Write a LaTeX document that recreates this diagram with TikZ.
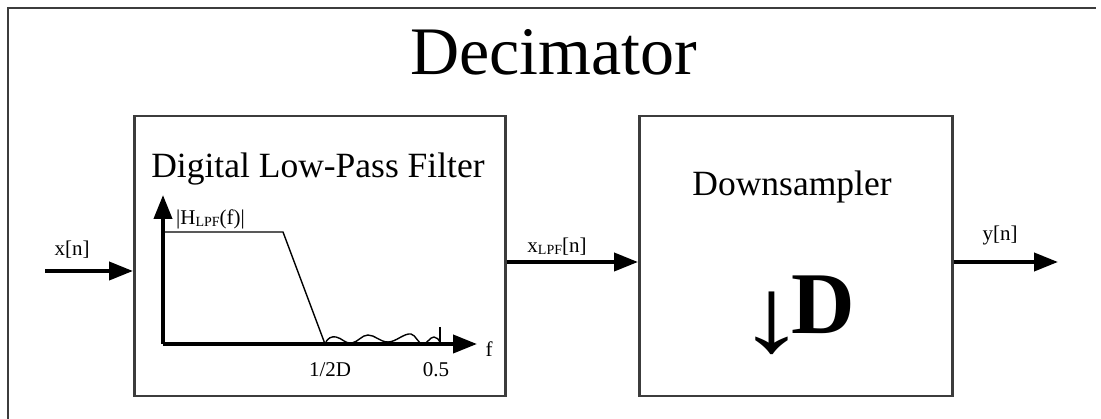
\documentclass[tikz,border=0pt]{standalone}
\usepackage{fontspec}
\setmainfont{Liberation Serif}
\usetikzlibrary{arrows.meta}
\definecolor{frame}{HTML}{3C3C3C}
\newcommand{\sub}[1]{{\fontsize{14}{14}\selectfont\raisebox{-1.5pt}{#1}}}
\tikzset{
  px/.style={x=1pt,y=-1pt},
  blockbox/.style={draw=frame,line width=2.5pt,inner sep=0pt},
  sigarrow/.style={line width=4pt,-{Triangle[length=24pt,width=18pt]}},
  axisline/.style={line width=4pt,-{Triangle[length=24pt,width=18pt]}},
  lbl/.style={font=\fontsize{21}{21}\selectfont,anchor=base,inner sep=0pt},
  heading/.style={anchor=base,inner sep=0pt,font=\fontsize{35.5}{35.5}\selectfont},
  curve/.style={line width=1.4pt,line join=round}
}
\begin{document}
\begin{tikzpicture}[px]
\useasboundingbox (0,0) rectangle (1101,419);
% outer frame (only top and left edges fall inside the page)
\draw[frame,line width=2.5pt] (8,425) -- (8,8) -- (1096,8);

% title
\node[anchor=base,inner sep=0pt,font=\fontsize{68}{68}\selectfont] (title) at (554,75) {Decimator};

% the two blocks
\node[blockbox,minimum width=371pt,minimum height=280pt,anchor=north west] (lpf) at (133,115) {};
\node[blockbox,minimum width=313pt,minimum height=280pt,anchor=north west] (ds) at (638,115) {};

\node[heading] (lpftitle) at (318,178) {Digital Low-Pass Filter};
\node[heading] (dstitle) at (792,196) {Downsampler};

% downsampling symbol
\node[anchor=base,inner sep=0pt,font=\fontsize{106}{106}\selectfont] (darr) at (772,352) {\scalebox{1.3}[1]{↓}};
\node[anchor=base west,inner sep=0pt,font=\fontsize{88}{88}\selectfont\bfseries] (dd) at (791,334) {D};

% frequency response sketch
\coordinate (o) at (163,344);
\coordinate (ytip) at (163,195);
\coordinate (xtip) at (477,344);
\draw[axisline] (o) -- (ytip);
\draw[axisline] (o) -- (xtip);
\draw[curve] (163,232) -- (283,232) -- (325,344);
\draw[curve] (325,344) .. controls (327,338) and (332,336) .. (336,337)
  .. controls (342,338) and (345,344) .. (352,343)
  .. controls (358,342) and (362,335) .. (368,335)
  .. controls (375,335) and (380,342) .. (388,342)
  .. controls (396,342) and (404,333) .. (411,334)
  .. controls (416,335) and (418,344) .. (423,344)
  .. controls (427,344) and (430,337) .. (434,337)
  .. controls (437,337) and (439,340) .. (440,342);
\draw[curve] (440,327) -- (440,344);

\node[lbl,anchor=base west] (hlabel) at (176,225) {|H\sub{LPF}(f)|};
\node[lbl] (flabel) at (489,357) {f};
\node[lbl] (cut) at (330,377) {1/2D};
\node[lbl] (half) at (436,377) {0.5};

% signal connectors
\coordinate (xin) at (45,271);
\coordinate (yout) at (1058,262);
\draw[sigarrow] (xin) -- (xin -| lpf.west);
\draw[sigarrow] (lpf.east |- 0,262) -- (ds.west |- 0,262);
\draw[sigarrow] (ds.east |- yout) -- (yout);

\node[lbl] (xl) at (72,256) {x[n]};
\node[lbl] (xlpf) at (557,253) {x\sub{LPF}[n]};
\node[lbl] (yl) at (1000,241) {y[n]};
\end{tikzpicture}
\end{document}
